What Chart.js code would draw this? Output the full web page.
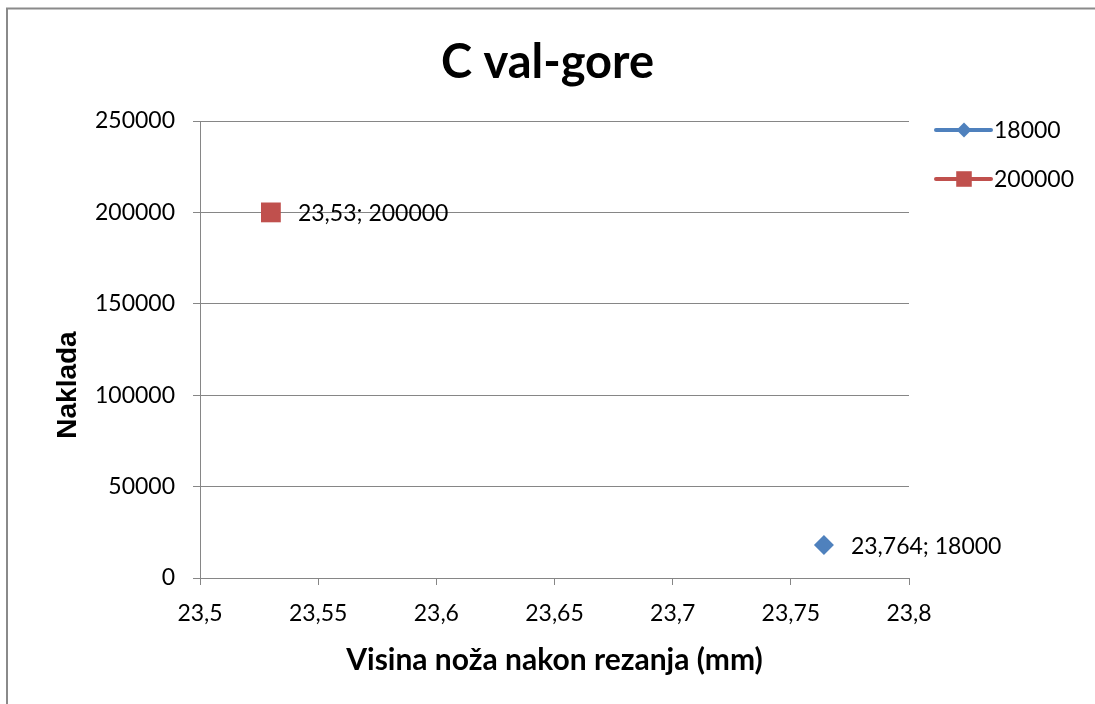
<!DOCTYPE html>
<html>
<head>
<meta charset="utf-8">
<script src="https://cdn.jsdelivr.net/npm/chart.js@4/dist/chart.umd.min.js"></script>
<style>
  body { margin: 0; background: #fff; }
  canvas { display: block; }
</style>
</head>
<body>
<canvas id="myChart" width="1095" height="704"></canvas>
<script>
// chart data
const seriesNames = ['18000', '200000'];
const xValues = [23.764, 23.53];
const yValues = [18000, 200000];
const seriesColors = ['#4F81BD', '#C0504D'];
const seriesStyles = ['rectRot', 'rect'];

const xMin = 23.5, xMax = 23.8, xStep = 0.05;
const yMin = 0, yMax = 250000, yStep = 50000;

const titleText = 'C val-gore';
const xTitle = 'Visina noža nakon rezanja (mm)';
const yTitle = 'Naklada';

const gridGray = '#868686';
const tickFont = { family: 'Lato', size: 23 };

function fmt(v) {
    return String(parseFloat(Number(v).toFixed(3))).replace('.', ',');
}

let datasets = seriesNames.map((name, i) => ({
    label: name,
    data: [{ x: xValues[i], y: yValues[i] }],
    backgroundColor: seriesColors[i],
    borderColor: seriesColors[i],
    pointStyle: seriesStyles[i],
    pointRadius: seriesStyles[i] === 'rect' ? 14 : 10,
    pointBorderWidth: 0,
    showLine: false
}));

// white background, frame lines, chart title and y title
const frame = {
    id: 'frame',
    beforeDraw(chart) {
        const ctx = chart.ctx;
        ctx.save();
        ctx.fillStyle = '#fff';
        ctx.fillRect(0, 0, chart.width, chart.height);
        ctx.strokeStyle = '#8a8a8a';
        ctx.lineWidth = 2;
        ctx.beginPath();
        ctx.moveTo(7, chart.height);
        ctx.lineTo(7, 8.5);
        ctx.lineTo(chart.width, 8.5);
        ctx.stroke();
        ctx.fillStyle = '#000';
        ctx.font = 'bold 47px Lato';
        ctx.textAlign = 'center';
        ctx.textBaseline = 'middle';
        ctx.fillText(titleText, chart.width / 2, 63);
        // y title sits a bit below the middle of the axis in the original
        ctx.translate(68, 385);
        ctx.rotate(-Math.PI / 2);
        ctx.font = 'bold 28px "Liberation Sans"';
        ctx.fillText(yTitle, 0, 0);
        ctx.restore();
    }
};

// "x; y" labels beside each point
const pointLabels = {
    id: 'pointLabels',
    afterDatasetsDraw(chart) {
        const ctx = chart.ctx;
        ctx.save();
        ctx.font = '23px Lato';
        ctx.fillStyle = '#000';
        ctx.textAlign = 'left';
        ctx.textBaseline = 'middle';
        chart.data.datasets.forEach((ds, i) => {
            chart.getDatasetMeta(i).data.forEach((pt, j) => {
                const d = ds.data[j];
                ctx.fillText(fmt(d.x) + '; ' + d.y, pt.x + 27, pt.y + 1);
            });
        });
        ctx.restore();
    }
};

// legend on the right: line with marker, then the name
const sideLegend = {
    id: 'sideLegend',
    afterDraw(chart) {
        const ctx = chart.ctx;
        const x0 = chart.chartArea.right + 27;
        ctx.save();
        chart.data.datasets.forEach((ds, i) => {
            const y = 130 + i * 49;
            ctx.strokeStyle = ds.borderColor;
            ctx.lineWidth = 4;
            ctx.lineCap = 'round';
            ctx.beginPath();
            ctx.moveTo(x0, y);
            ctx.lineTo(x0 + 55, y);
            ctx.stroke();
            ctx.fillStyle = ds.backgroundColor;
            Chart.helpers.drawPoint(ctx, {
                pointStyle: ds.pointStyle,
                radius: ds.pointStyle === 'rect' ? 11 : 7.5,
                rotation: 0,
                borderWidth: 0
            }, x0 + 28, y);
            ctx.fillStyle = '#000';
            ctx.font = '23px Lato';
            ctx.textAlign = 'left';
            ctx.textBaseline = 'middle';
            ctx.fillText(ds.label, x0 + 58, y + 1);
        });
        ctx.restore();
    }
};

let ctx = document.getElementById('myChart').getContext('2d');
let myChart = new Chart(ctx, {
    type: 'scatter',
    data: { datasets: datasets },
    plugins: [frame, pointLabels, sideLegend],
    options: {
        responsive: false,
        animation: false,
        layout: { padding: { left: 0, right: 186, top: 121, bottom: 0 } },
        plugins: {
            legend: { display: false },
            tooltip: { enabled: false },
            title: { display: false }
        },
        scales: {
            x: {
                type: 'linear',
                min: xMin,
                max: xMax,
                afterFit: s => { s.height = 126; },
                ticks: {
                    stepSize: xStep,
                    color: '#000',
                    font: tickFont,
                    padding: 15,
                    maxRotation: 0,
                    callback: v => fmt(v)
                },
                grid: { drawOnChartArea: false, color: gridGray, tickLength: 7 },
                border: { color: gridGray, width: 1 },
                title: {
                    display: true,
                    text: xTitle,
                    color: '#000',
                    font: { family: 'Lato', size: 30, weight: 'bold', lineHeight: 1.2 },
                    padding: { top: 0, bottom: 26 }
                }
            },
            y: {
                min: yMin,
                max: yMax,
                afterFit: s => { s.width = 200; },
                ticks: {
                    stepSize: yStep,
                    color: '#000',
                    font: tickFont,
                    padding: 18,
                    callback: v => String(v)
                },
                grid: { color: gridGray, tickLength: 7 },
                border: { color: gridGray, width: 1 }
            }
        }
    }
});
</script>
</body>
</html>
